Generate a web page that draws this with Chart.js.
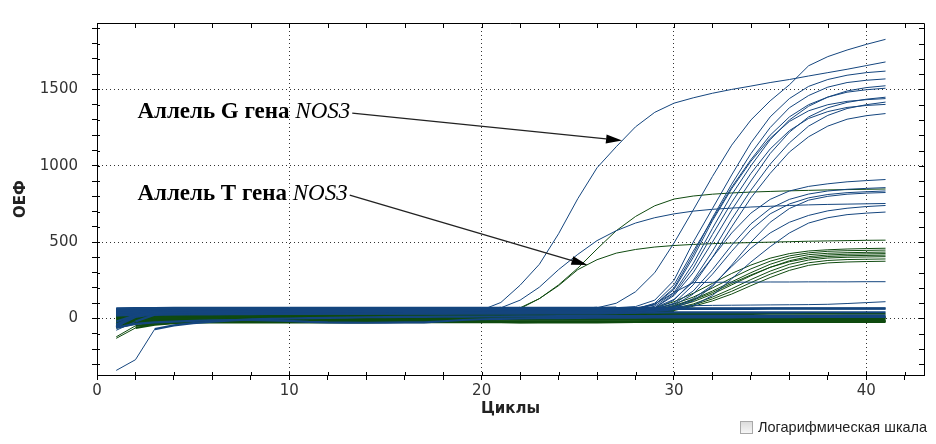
<!DOCTYPE html>
<html>
<head>
<meta charset="utf-8">
<script src="https://cdn.jsdelivr.net/npm/chart.js@4"></script>
<style>
  body { margin: 0; background: #fff; }
  #wrap { position: relative; width: 936px; height: 444px; }
  #logBox { position: absolute; left: 740px; top: 421px; width: 11px; height: 11px;
            border: 1px solid #a8a8a8; background: linear-gradient(#dcdcdc, #f6f6f6); }
  #logLabel { position: absolute; left: 758px; top: 419px; font: 14.5px "Liberation Sans", sans-serif; color: #222; }
</style>
</head>
<body>
<div id="wrap">
  <canvas id="pcrChart" width="936" height="444"></canvas>
  <div id="logBox"></div>
  <div id="logLabel">Логарифмическая шкала</div>
</div>
<script>
// qPCR amplification curves, cycles 1..41
const cycles = [1, 2, 3, 4, 5, 6, 7, 8, 9, 10, 11, 12, 13, 14, 15, 16, 17, 18, 19, 20,
  21, 22, 23, 24, 25, 26, 27, 28, 29, 30, 31, 32, 33, 34, 35, 36, 37, 38, 39, 40, 41];
const xTicks = [0, 2, 4, 6, 8, 10, 12, 14, 16, 18, 20, 22, 24, 26, 28, 30, 32, 34, 36, 38, 40, 42];
const yTicks = [-300, -200, -100, 0, 100, 200, 300, 400, 500, 600, 700, 800, 900, 1000,
  1100, 1200, 1300, 1400, 1500, 1600, 1700, 1800, 1900];

// --- blue channel (allele G) ---
const gAllele = [-20, 20, 35, 40, 42, 43, 44, 45, 45, 46,
  46, 47, 47, 48, 48, 49, 49, 50, 50, 55,
  105, 218, 355, 555, 785, 987, 1125, 1255, 1350, 1410,
  1445, 1475, 1500, 1522, 1545, 1565, 1588, 1610, 1632, 1656,
  1680];
const lateSteep = [-60, 30, 45, 50, 52, 53, 54, 55, 55, 56,
  56, 57, 57, 58, 58, 58, 59, 59, 60, 60,
  60, 61, 61, 62, 62, 70, 100, 175, 300, 494,
  710, 930, 1135, 1300, 1425, 1530, 1655, 1715, 1758, 1795,
  1828];
const earlyBlueMid = [40, 42, 43, 44, 44, 45, 45, 46, 46, 47,
  47, 47, 48, 48, 48, 49, 49, 50, 50, 52,
  70, 120, 205, 320, 420, 510, 575, 625, 660, 685,
  703, 715, 723, 730, 735, 740, 744, 747, 749, 751,
  753];
const high1 = [66, 68, 68, 69, 69, 69, 70, 70, 70, 70,
  70, 70, 70, 70, 70, 70, 70, 70, 70, 70,
  70, 70, 70, 70, 70, 70, 71, 78, 120, 250,
  500, 720, 940, 1150, 1320, 1440, 1520, 1565, 1593, 1610,
  1620];
const high2 = [48, 50, 51, 51, 52, 52, 53, 53, 53, 54,
  54, 54, 55, 55, 55, 55, 56, 56, 56, 56,
  57, 57, 57, 57, 58, 58, 58, 60, 90, 200,
  420, 660, 880, 1080, 1250, 1380, 1460, 1515, 1545, 1560,
  1569];
const high3 = [-40, 20, 38, 42, 44, 45, 46, 46, 47, 47,
  48, 48, 48, 49, 49, 49, 50, 50, 50, 50,
  51, 51, 51, 52, 52, 52, 53, 58, 80, 170,
  360, 590, 810, 1000, 1170, 1300, 1390, 1450, 1490, 1512,
  1524];
const high4 = [45, 47, 48, 49, 49, 50, 50, 51, 51, 51,
  52, 52, 52, 53, 53, 53, 53, 54, 54, 54,
  54, 55, 55, 55, 55, 56, 56, 62, 100, 220,
  440, 650, 860, 1040, 1200, 1320, 1400, 1450, 1482, 1498,
  1508];
const high5 = [28, 31, 33, 34, 35, 35, 36, 36, 37, 37,
  37, 38, 38, 38, 39, 39, 39, 40, 40, 40,
  41, 41, 41, 41, 42, 42, 43, 48, 70, 150,
  300, 500, 710, 900, 1080, 1220, 1320, 1380, 1415, 1436,
  1449];
const high6 = [60, 61, 61, 62, 62, 62, 63, 63, 63, 63,
  64, 64, 64, 64, 64, 65, 65, 65, 65, 65,
  66, 66, 66, 66, 66, 66, 67, 70, 90, 190,
  400, 640, 850, 1030, 1180, 1290, 1360, 1400, 1422, 1433,
  1440];
const high7 = [-77, -20, 25, 36, 40, 42, 43, 44, 45, 45,
  46, 46, 47, 47, 47, 48, 48, 48, 49, 49,
  49, 50, 50, 50, 51, 51, 51, 52, 60, 120,
  250, 440, 650, 840, 1010, 1150, 1260, 1330, 1375, 1400,
  1417];
const high8 = [50, 52, 53, 53, 54, 54, 54, 55, 55, 55,
  56, 56, 56, 56, 57, 57, 57, 57, 58, 58,
  58, 58, 59, 59, 59, 59, 60, 61, 70, 160,
  330, 550, 760, 950, 1110, 1230, 1310, 1355, 1382, 1395,
  1402];
const high9 = [42, 44, 45, 45, 46, 46, 47, 47, 47, 48,
  48, 48, 49, 49, 49, 49, 50, 50, 50, 50,
  51, 51, 51, 51, 52, 52, 52, 53, 60, 100,
  220, 400, 600, 790, 950, 1090, 1190, 1260, 1305, 1328,
  1342];
const low1 = [38, 40, 41, 42, 42, 43, 43, 44, 44, 44,
  45, 45, 45, 46, 46, 46, 46, 47, 47, 47,
  48, 48, 48, 48, 49, 49, 50, 52, 70, 125,
  240, 400, 560, 690, 780, 835, 865, 882, 895, 903,
  910];
const low2 = [58, 59, 59, 60, 60, 60, 61, 61, 61, 61,
  62, 62, 62, 62, 62, 63, 63, 63, 63, 63,
  63, 64, 64, 64, 64, 64, 65, 65, 66, 95,
  180, 320, 480, 620, 720, 780, 815, 835, 846, 852,
  857];
const low3 = [44, 46, 46, 47, 47, 48, 48, 48, 49, 49,
  49, 50, 50, 50, 50, 51, 51, 51, 51, 52,
  52, 52, 52, 53, 53, 53, 53, 54, 58, 85,
  160, 290, 440, 580, 685, 750, 790, 812, 824, 830,
  835];
const low4 = [52, 54, 54, 55, 55, 55, 56, 56, 56, 56,
  57, 57, 57, 57, 58, 58, 58, 58, 58, 59,
  59, 59, 59, 59, 60, 60, 60, 60, 61, 70,
  115, 210, 350, 500, 630, 720, 775, 800, 814, 821,
  825];
const low5 = [22, 25, 27, 28, 29, 29, 30, 30, 31, 31,
  31, 32, 32, 32, 33, 33, 33, 33, 34, 34,
  34, 34, 35, 35, 35, 35, 36, 40, 50, 75,
  130, 218, 340, 460, 560, 630, 675, 705, 722, 733,
  740];
const low6 = [-50, 10, 30, 36, 39, 40, 41, 42, 42, 43,
  43, 44, 44, 44, 45, 45, 45, 45, 46, 46,
  46, 46, 47, 47, 47, 47, 48, 48, 50, 60,
  85, 150, 260, 370, 470, 560, 625, 660, 680, 690,
  697];
const stepFlat = [46, 48, 49, 49, 50, 50, 51, 51, 51, 52,
  52, 52, 52, 53, 53, 53, 53, 54, 54, 54,
  54, 55, 55, 55, 55, 56, 56, 62, 95, 170,
  235, 237, 238, 238, 239, 239, 240, 240, 240, 241,
  241];
const weakBlue = [20, 24, 26, 27, 28, 28, 29, 29, 30, 30,
  30, 31, 31, 31, 32, 32, 32, 32, 33, 33,
  33, 33, 34, 34, 34, 34, 35, 38, 55, 76,
  84, 86, 87, 88, 89, 90, 91, 93, 98, 104,
  110];
const flatBlue1 = [62, 64, 65, 65, 66, 66, 66, 66, 67, 67,
  67, 67, 67, 67, 68, 68, 68, 68, 68, 68,
  68, 68, 68, 68, 68, 68, 68, 68, 68, 67,
  67, 67, 67, 67, 67, 67, 67, 66, 66, 66,
  66];
const flatBlue2 = [-340, -270, -70, -45, -30, -20, -12, -6, -2, 0,
  2, 4, 6, 8, 9, 10, 11, 12, 12, 13,
  13, 14, 14, 15, 15, 15, 16, 16, 16, 17,
  17, 17, 17, 18, 18, 18, 18, 18, 19, 19,
  19];
const flatBlue3 = [-60, -35, -25, -20, -15, -12, -10, -10, -12, -15,
  -22, -26, -27, -28, -27, -26, -25, -18, -10, -5,
  -2, 0, 2, 3, 4, 5, 6, 6, 7, 7,
  8, 8, 8, 9, 9, 9, 10, 10, 10, 10,
  10];
const flatBlue4 = [30, 32, 33, 34, 34, 35, 35, 35, 36, 36,
  36, 36, 37, 37, 37, 37, 37, 38, 38, 38,
  38, 38, 38, 39, 39, 39, 39, 39, 39, 40,
  40, 40, 40, 40, 40, 40, 41, 41, 41, 41,
  41];
const flatBlue5 = [55, 57, 58, 58, 59, 59, 59, 60, 60, 60,
  60, 61, 61, 61, 61, 61, 61, 62, 62, 62,
  62, 62, 62, 62, 62, 63, 63, 63, 63, 63,
  63, 63, 63, 63, 64, 64, 64, 64, 64, 64,
  64];

// --- green channel (allele T) ---
const tAllele = [-130, -62, -40, -30, -22, -14, -8, -3, 0, 2,
  4, 5, 6, 7, 8, 8, 9, 9, 10, 12,
  30, 70, 130, 215, 320, 385, 428, 452, 468, 478,
  485, 490, 494, 497, 500, 503, 506, 508, 510, 512,
  513];
const earlyGreenHigh = [-120, -48, -35, -28, -20, -12, -5, 0, 3, 5,
  7, 8, 9, 10, 10, 11, 11, 12, 12, 15,
  30, 65, 130, 220, 330, 455, 575, 668, 738, 782,
  802, 814, 822, 828, 832, 836, 839, 842, 844, 846,
  848];
const green1 = [12, 15, 17, 18, 19, 19, 20, 20, 21, 21,
  21, 22, 22, 22, 22, 23, 23, 23, 23, 24,
  24, 24, 24, 25, 25, 26, 30, 45, 70, 110,
  165, 230, 295, 350, 395, 425, 442, 450, 455, 458,
  460];
const green2 = [5, 8, 10, 11, 12, 12, 13, 13, 13, 14,
  14, 14, 15, 15, 15, 15, 16, 16, 16, 16,
  17, 17, 17, 17, 18, 18, 22, 35, 60, 95,
  140, 200, 265, 325, 375, 410, 430, 440, 444, 446,
  448];
const green3 = [18, 20, 21, 22, 22, 23, 23, 23, 24, 24,
  24, 24, 25, 25, 25, 25, 26, 26, 26, 26,
  26, 27, 27, 27, 27, 28, 30, 38, 55, 85,
  125, 180, 240, 300, 355, 395, 418, 427, 431, 433,
  435];
const green4 = [-10, -5, -2, 0, 1, 2, 3, 3, 4, 4,
  5, 5, 5, 6, 6, 6, 7, 7, 7, 7,
  8, 8, 8, 9, 9, 10, 14, 25, 45, 75,
  110, 160, 220, 280, 335, 378, 405, 416, 421, 423,
  425];
const green5 = [25, 27, 28, 28, 29, 29, 29, 30, 30, 30,
  30, 31, 31, 31, 31, 31, 32, 32, 32, 32,
  32, 33, 33, 33, 33, 34, 36, 42, 50, 80,
  120, 170, 230, 285, 335, 372, 395, 406, 411, 413,
  415];
const green6 = [0, 3, 5, 6, 7, 7, 8, 8, 8, 9,
  9, 9, 10, 10, 10, 10, 11, 11, 11, 11,
  12, 12, 12, 12, 13, 14, 18, 28, 42, 65,
  95, 140, 195, 255, 310, 355, 383, 396, 401, 403,
  405];
const green7 = [10, 12, 13, 14, 14, 15, 15, 15, 16, 16,
  16, 16, 17, 17, 17, 17, 18, 18, 18, 18,
  18, 19, 19, 19, 19, 20, 23, 30, 42, 60,
  88, 128, 178, 235, 290, 335, 365, 380, 386, 388,
  390];
const green8 = [-15, -10, -7, -5, -4, -3, -2, -2, -1, -1,
  0, 0, 0, 1, 1, 1, 2, 2, 2, 2,
  3, 3, 3, 3, 4, 5, 8, 15, 30, 52,
  80, 115, 160, 215, 268, 315, 348, 364, 370, 373,
  375];
const flatGreen1 = [-45, -30, -26, -24, -23, -22, -22, -21, -21, -21,
  -20, -20, -20, -20, -20, -19, -19, -19, -19, -19,
  -19, -18, -18, -18, -18, -18, -18, -18, -17, -17,
  -17, -17, -17, -17, -17, -16, -16, -16, -16, -16,
  -16];
const flatGreen2 = [-30, -18, -15, -13, -12, -12, -11, -11, -11, -10,
  -10, -10, -10, -10, -9, -9, -9, -9, -9, -9,
  -8, -8, -8, -8, -8, -8, -8, -7, -7, -7,
  -7, -7, -7, -7, -7, -6, -6, -6, -6, -6,
  -6];
const flatGreen3 = [-20, -8, -5, -3, -2, -2, -1, -1, -1, 0,
  0, 0, 0, 0, 0, 1, 1, 1, 1, 1,
  1, 1, 2, 2, 2, 2, 2, 2, 2, 2,
  3, 3, 3, 3, 3, 3, 3, 3, 3, 3,
  3];
const flatGreen4 = [0, 4, 5, 6, 6, 7, 7, 7, 7, 8,
  8, 8, 8, 8, 8, 9, 9, 9, 9, 9,
  9, 9, 10, 10, 10, 10, 10, 10, 10, 10,
  11, 11, 11, 11, 11, 11, 11, 11, 11, 11,
  11];
const flatGreen5 = [-40, -25, -20, -18, -17, -16, -16, -15, -15, -15,
  -15, -15, -14, -14, -14, -14, -14, -14, -15, -18,
  -22, -25, -26, -26, -26, -25, -24, -22, -20, -19,
  -18, -18, -18, -18, -18, -18, -18, -18, -18, -18,
  -18];
const flatGreen6 = [20, 23, 24, 25, 25, 26, 26, 26, 27, 27,
  27, 27, 27, 28, 28, 28, 28, 28, 28, 29,
  29, 29, 29, 29, 29, 29, 30, 30, 30, 30,
  30, 30, 30, 30, 31, 31, 31, 31, 31, 31,
  31];
const flatGreen7 = [-60, -32, -28, -27, -26, -26, -26, -25, -25, -25,
  -25, -25, -25, -25, -24, -24, -24, -24, -24, -24,
  -24, -24, -23, -23, -23, -23, -23, -23, -23, -23,
  -22, -22, -22, -22, -22, -22, -22, -22, -22, -22,
  -22];

const blueCurves = [gAllele, lateSteep, earlyBlueMid, high1, high2, high3, high4, high5,
  high6, high7, high8, high9, low1, low2, low3, low4, low5, low6, stepFlat, weakBlue,
  flatBlue1, flatBlue2, flatBlue3, flatBlue4, flatBlue5];
const greenCurves = [tAllele, earlyGreenHigh, green1, green2, green3, green4, green5, green6,
  green7, green8, flatGreen1, flatGreen2, flatGreen3, flatGreen4, flatGreen5, flatGreen6, flatGreen7];

const BLUE = '#14457e';
const GREEN = '#0f4a0f';

function toPoints(vals) {
    return vals.map((v, i) => ({ x: cycles[i], y: v }));
}

// the flat baseline stretch reads as a dense strip in the original
const baselineWidth = ctx => (Math.abs(ctx.p0.parsed.y) < 75 && Math.abs(ctx.p1.parsed.y) < 75 ? 2.2 : 1);

const datasets = [];
blueCurves.forEach(vals => datasets.push({ data: toPoints(vals), borderColor: BLUE, segment: { borderWidth: baselineWidth } }));
greenCurves.forEach(vals => datasets.push({ data: toPoints(vals), borderColor: GREEN, segment: { borderWidth: baselineWidth } }));

// arrow labels, anchored in data units
const notes = [
    { label: 'Аллель G гена ', gene: 'NOS3', textX: 2.1, textY: 1352, tipX: 27.3, tipY: 1165 },
    { label: 'Аллель T гена ', gene: 'NOS3', textX: 2.1, textY: 815, tipX: 25.5, tipY: 350 }
];

const annotationPlugin = {
    id: 'notes',
    afterDatasetsDraw(chart) {
        const { ctx, scales: { x, y } } = chart;
        ctx.save();
        ctx.fillStyle = '#000';
        ctx.textBaseline = 'middle';
        notes.forEach(n => {
            const px = x.getPixelForValue(n.textX);
            const py = y.getPixelForValue(n.textY);
            ctx.font = 'bold 23px "Liberation Serif"';
            ctx.fillText(n.label, px, py);
            const w1 = ctx.measureText(n.label).width;
            ctx.font = 'italic 23px "Liberation Serif"';
            ctx.fillText(n.gene, px + w1, py);
            const w2 = ctx.measureText(n.gene).width;

            const sx = px + w1 + w2 + 2, sy = py + 1;
            const tx = x.getPixelForValue(n.tipX), ty = y.getPixelForValue(n.tipY);
            const ang = Math.atan2(ty - sy, tx - sx);
            const headLen = 16, headW = 4.5;
            const bx = tx - headLen * Math.cos(ang), by = ty - headLen * Math.sin(ang);
            ctx.strokeStyle = '#222';
            ctx.lineWidth = 1.3;
            ctx.beginPath();
            ctx.moveTo(sx, sy);
            ctx.lineTo(bx, by);
            ctx.stroke();
            ctx.beginPath();
            ctx.moveTo(tx, ty);
            ctx.lineTo(bx + headW * Math.sin(ang), by - headW * Math.cos(ang));
            ctx.lineTo(bx - headW * Math.sin(ang), by + headW * Math.cos(ang));
            ctx.closePath();
            ctx.fill();
        });
        ctx.restore();
    }
};

// top / right frame with inward ticks; short inward stubs on the bottom / left axes too
const framePlugin = {
    id: 'frame',
    afterDraw(chart) {
        const { ctx, chartArea: a, scales: { x, y } } = chart;
        ctx.save();
        ctx.strokeStyle = '#000';
        ctx.lineWidth = 1;
        ctx.beginPath();
        ctx.moveTo(a.left, a.top + 0.5);
        ctx.lineTo(a.right + 0.5, a.top + 0.5);
        ctx.lineTo(a.right + 0.5, a.bottom);
        x.ticks.forEach(t => {
            const px = Math.round(x.getPixelForValue(t.value)) + 0.5;
            ctx.moveTo(px, a.top);
            ctx.lineTo(px, a.top + 5);
            ctx.moveTo(px, a.bottom);
            ctx.lineTo(px, a.bottom - 3);
        });
        y.ticks.forEach(t => {
            const py = Math.round(y.getPixelForValue(t.value)) + 0.5;
            ctx.moveTo(a.right, py);
            ctx.lineTo(a.right - 5, py);
            ctx.moveTo(a.left, py);
            ctx.lineTo(a.left + 3, py);
        });
        ctx.stroke();
        ctx.restore();
    }
};

const tickFont = { family: '"DejaVu Sans"', size: 15 };
const titleFont = { family: '"DejaVu Sans"', size: 15, weight: 'bold' };

new Chart(document.getElementById('pcrChart'), {
    type: 'line',
    data: { datasets },
    options: {
        responsive: false,
        animation: false,
        events: [],
        layout: { padding: { top: 15, right: 12, left: 0, bottom: 0 } },
        elements: {
            point: { radius: 0 },
            line: { borderWidth: 1, tension: 0, fill: false }
        },
        plugins: { legend: { display: false }, tooltip: { enabled: false } },
        scales: {
            x: {
                type: 'linear',
                min: 0,
                max: 43,
                afterFit: s => { s.height = 69; },
                afterBuildTicks: s => { s.ticks = xTicks.map(v => ({ value: v })); },
                ticks: {
                    autoSkip: false, maxRotation: 0,
                    padding: 2, color: '#333', font: tickFont,
                    callback: v => (v % 10 === 0 ? String(v) : '')
                },
                grid: {
                    color: c => (c.tick && c.tick.value % 10 === 0 && c.tick.value !== 0 ? '#333' : 'rgba(0,0,0,0)'),
                    tickColor: '#000', tickLength: 5
                },
                border: { color: '#000', dash: [1, 3] },
                title: { display: true, text: 'Циклы', color: '#222', font: titleFont, padding: { top: 0, bottom: 26 } }
            },
            y: {
                type: 'linear',
                min: -370,
                max: 1935,
                afterFit: s => { s.width = 97; },
                afterBuildTicks: s => { s.ticks = yTicks.map(v => ({ value: v })); },
                ticks: {
                    autoSkip: false,
                    padding: 14, color: '#333', font: tickFont,
                    callback: v => (v % 500 === 0 ? String(v) : '')
                },
                grid: {
                    color: c => (c.tick && c.tick.value % 500 === 0 ? '#333' : 'rgba(0,0,0,0)'),
                    tickColor: '#000', tickLength: 5
                },
                border: { color: '#000', dash: [1, 3] },
                title: { display: true, text: 'ОЕФ', color: '#222', font: titleFont, padding: { top: 12, bottom: 0 } }
            }
        }
    },
    plugins: [annotationPlugin, framePlugin]
});
</script>
</body>
</html>
